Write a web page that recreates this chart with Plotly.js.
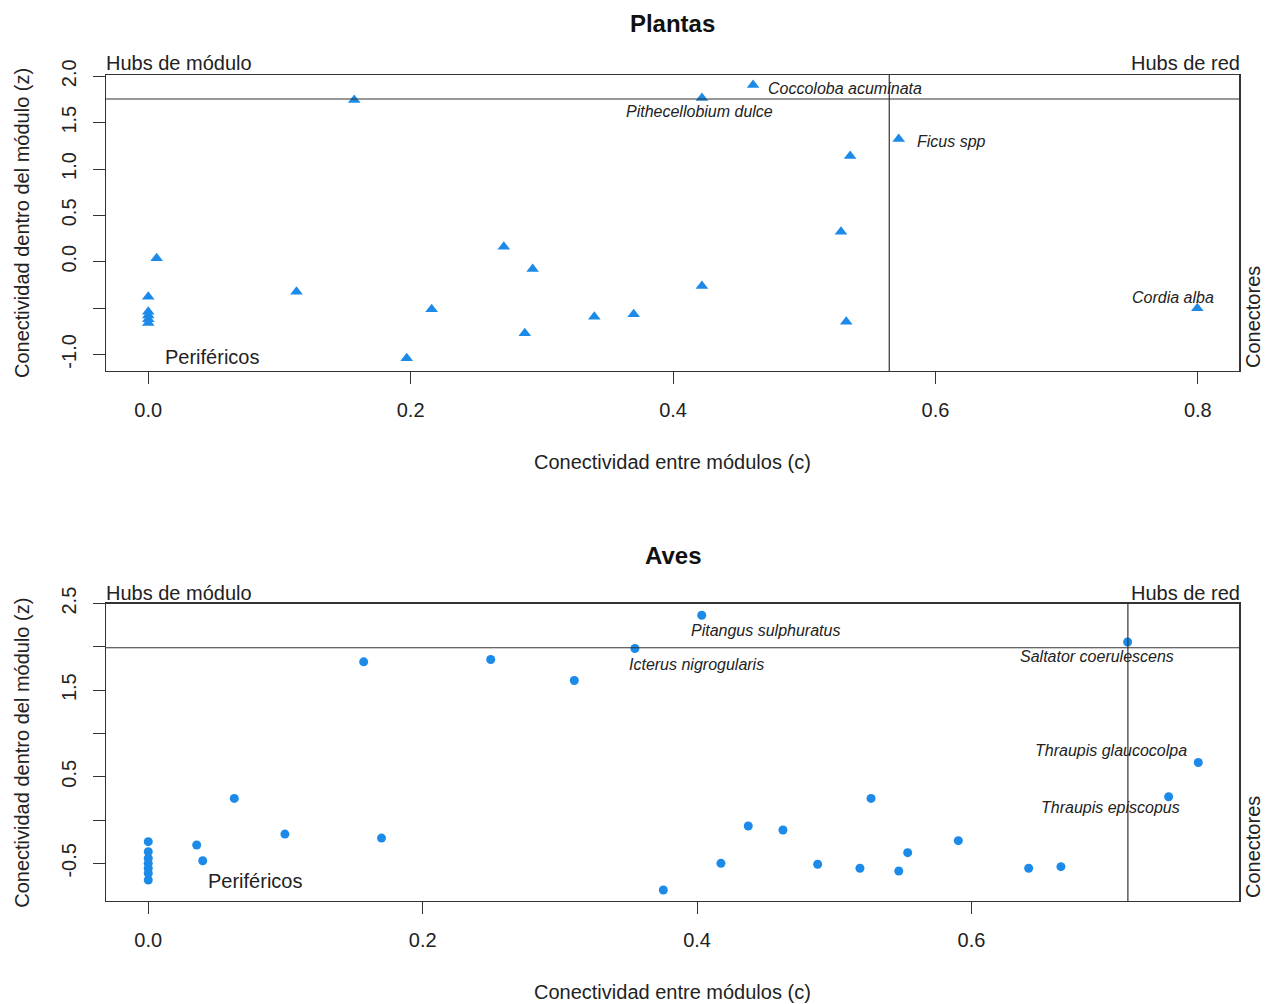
<!DOCTYPE html>
<html>
<head>
<meta charset="utf-8">
<script src="https://cdn.plot.ly/plotly-3.0.1.min.js"></script>
<style>html,body{margin:0;padding:0;background:#fff;}#chart{width:1269px;height:1004px;}</style>
</head>
<body>
<div id="chart"></div>
<script>
// ---------- DATA ----------
const plantC = [0.0064, 0, 0, 0, 0, 0, 0.113, 0.157, 0.197, 0.216, 0.271, 0.293, 0.287,
  0.461, 0.422, 0.572, 0.535, 0.528, 0.422, 0.340, 0.370, 0.532, 0.7996];
const plantZ = [0.037, -0.378, -0.54, -0.58, -0.62, -0.66, -0.324, 1.745, -1.042, -0.514, 0.162, -0.079, -0.773,
  1.906, 1.765, 1.323, 1.14, 0.324, -0.262, -0.593, -0.568, -0.647, -0.503];
const plantNames = ['', '', '', '', '', '', '', '', '', '', '', '', '',
  'Coccoloba acuminata', 'Pithecellobium dulce', 'Ficus spp', '', '', '', '', '', '', 'Cordia alba'];

const birdC = [0, 0, 0, 0, 0, 0, 0, 0.0353, 0.0397, 0.0627, 0.0996, 0.157, 0.170, 0.2496, 0.3105,
  0.3547, 0.4034, 0.3754, 0.4174, 0.4373, 0.4626, 0.4879, 0.5268, 0.5187, 0.547, 0.5535, 0.5904,
  0.6417, 0.6652, 0.7138, 0.7653, 0.7437];
const birdZ = [-0.25, -0.365, -0.44, -0.5, -0.557, -0.615, -0.692, -0.288, -0.47, 0.25, -0.162, 1.827, -0.208, 1.854, 1.612,
  1.981, 2.365, -0.808, -0.5, -0.069, -0.115, -0.511, 0.25, -0.557, -0.588, -0.377, -0.238,
  -0.557, -0.538, 2.057, 0.665, 0.269];
const birdNames = ['', '', '', '', '', '', '', '', '', '', '', '', '', '', '',
  'Icterus nigrogularis', 'Pitangus sulphuratus', '', '', '', '', '', '', '', '', '', '',
  '', '', 'Saltator coerulescens', 'Thraupis glaucocolpa', 'Thraupis episcopus'];

// thresholds (c, z)
const plantCThr = 0.5648, plantZThr = 1.755;
const birdCThr = 0.714, birdZThr = 1.99;

// tick labels
const plantXTicks = [0, 0.2, 0.4, 0.6, 0.8];
const plantXText = ['0.0', '0.2', '0.4', '0.6', '0.8'];
const plantYTicks = [-1, -0.5, 0, 0.5, 1, 1.5, 2];
const plantYText = ['-1.0', '', '0.0', '0.5', '1.0', '1.5', '2.0'];
const birdXTicks = [0, 0.2, 0.4, 0.6];
const birdXText = ['0.0', '0.2', '0.4', '0.6'];
const birdYTicks = [-0.5, 0, 0.5, 1, 1.5, 2, 2.5];
const birdYText = ['-0.5', '', '0.5', '', '1.5', '', '2.5'];

// ---------- STYLE / LAYOUT ----------
const W = 1269, H = 1004;
const px = v => v / W, py = v => 1 - v / H;
const FONT = 'Liberation Sans, Arial, sans-serif';
const TXT = '#222';
const BLUE = '#1c8ae8';

// label offsets in px (style only)
const labelStyle = {
  'Coccoloba acuminata': {xanchor: 'left', xshift: 13, yshift: -3},
  'Pithecellobium dulce': {xanchor: 'center', xshift: -2, yshift: -13},
  'Ficus spp': {xanchor: 'left', xshift: 16, yshift: -2},
  'Cordia alba': {xanchor: 'center', xshift: -24, yshift: 11},
  'Pitangus sulphuratus': {xanchor: 'center', xshift: 64, yshift: -15},
  'Icterus nigrogularis': {xanchor: 'center', xshift: 62, yshift: -16},
  'Saltator coerulescens': {xanchor: 'center', xshift: -31, yshift: -15},
  'Thraupis glaucocolpa': {xanchor: 'center', xshift: -87, yshift: 12},
  'Thraupis episcopus': {xanchor: 'center', xshift: -58, yshift: -11}
};

const traces = [
  {x: plantC, y: plantZ, xaxis: 'x', yaxis: 'y', type: 'scatter', mode: 'markers',
   marker: {symbol: 'triangle-up', size: 11, color: BLUE}, hoverinfo: 'x+y', showlegend: false},
  {x: birdC, y: birdZ, xaxis: 'x2', yaxis: 'y2', type: 'scatter', mode: 'markers',
   marker: {symbol: 'circle', size: 9, color: BLUE}, hoverinfo: 'x+y', showlegend: false}
];

function axisBase() {
  return {showline: true, mirror: true, linecolor: '#333', linewidth: 1.3,
    ticks: 'outside', ticklen: 12, tickcolor: '#333', tickwidth: 1,
    showgrid: false, zeroline: false, fixedrange: true,
    tickfont: {family: FONT, size: 20, color: TXT}};
}

const xa = Object.assign(axisBase(), {domain: [px(106), px(1239.3)], range: [-0.0322, 0.8316],
  tickmode: 'array', tickvals: plantXTicks, ticktext: plantXText, anchor: 'y', ticklabelstandoff: 9});
const ya = Object.assign(axisBase(), {domain: [py(371), py(75)], range: [-1.179, 2.014],
  tickmode: 'array', tickvals: plantYTicks, ticktext: plantYText, anchor: 'x', tickangle: -90, ticklabelstandoff: 9});
const xa2 = Object.assign(axisBase(), {domain: [px(106), px(1239.3)], range: [-0.0308, 0.7952],
  tickmode: 'array', tickvals: birdXTicks, ticktext: birdXText, anchor: 'y2', ticklabelstandoff: 9});
const ya2 = Object.assign(axisBase(), {domain: [py(901), py(603.6)], range: [-0.935, 2.5],
  tickmode: 'array', tickvals: birdYTicks, ticktext: birdYText, anchor: 'x2', tickangle: -90, ticklabelstandoff: 9});

const shapes = [
  {type: 'line', xref: 'x', yref: 'y', x0: -0.0322, x1: 0.8316, y0: plantZThr, y1: plantZThr, line: {color: '#333', width: 1.2}},
  {type: 'line', xref: 'x', yref: 'y', x0: plantCThr, x1: plantCThr, y0: -1.179, y1: 2.014, line: {color: '#333', width: 1.2}},
  {type: 'line', xref: 'x2', yref: 'y2', x0: -0.0308, x1: 0.7952, y0: birdZThr, y1: birdZThr, line: {color: '#333', width: 1.2}},
  {type: 'line', xref: 'x2', yref: 'y2', x0: birdCThr, x1: birdCThr, y0: -0.935, y1: 2.5, line: {color: '#333', width: 1.2}}
];

const ann = [];
function txt(text, x, y, opts) {
  ann.push(Object.assign({text: text, x: px(x), y: py(y), xref: 'paper', yref: 'paper', showarrow: false,
    xanchor: 'center', yanchor: 'middle', borderpad: 0, font: {family: FONT, size: 20, color: TXT}}, opts || {}));
}
txt('<b>Aves</b>', 672.6, 555, {font: {family: FONT, size: 24, color: '#111'}});
const panels = [{top: 75, bot: 371, ytitle: 223, xtitle: 462, peri: [164, 357]},
                {top: 604.7, bot: 901, ytitle: 752.8, xtitle: 992, peri: [207, 881]}];
panels.forEach(p => {
  txt('Hubs de módulo', 105, p.top - 12, {xanchor: 'left'});
  txt('Hubs de red', 1240.5, p.top - 12, {xanchor: 'right'});
  txt('Periféricos', p.peri[0], p.peri[1], {xanchor: 'left'});
  txt('Conectores', 1253, p.bot - 54, {textangle: -90});
  txt('Conectividad entre módulos (c)', 672.6, p.xtitle);
  txt('Conectividad dentro del módulo (z)', 22, p.ytitle, {textangle: -90});
});

function speciesLabels(cs, zs, names, xr, yr) {
  names.forEach((n, i) => {
    if (!n) return;
    const s = labelStyle[n];
    ann.push({text: '<i>' + n + '</i>', x: cs[i], y: zs[i], xref: xr, yref: yr, showarrow: false,
      xanchor: s.xanchor, yanchor: 'middle', xshift: s.xshift, yshift: s.yshift,
      font: {family: FONT, size: 16, color: TXT}});
  });
}
speciesLabels(plantC, plantZ, plantNames, 'x', 'y');
speciesLabels(birdC, birdZ, birdNames, 'x2', 'y2');

const layout = {
  width: W, height: H, margin: {l: 0, r: 0, t: 0, b: 0},
  paper_bgcolor: '#fff', plot_bgcolor: '#fff',
  title: {text: '<b>Plantas</b>', x: px(672.6), xanchor: 'center', xref: 'paper', y: py(24), yref: 'container',
    yanchor: 'middle', font: {family: FONT, size: 24, color: '#111'}},
  xaxis: xa, yaxis: ya, xaxis2: xa2, yaxis2: ya2,
  shapes: shapes, annotations: ann, showlegend: false
};

Plotly.newPlot('chart', traces, layout, {displayModeBar: false, staticPlot: true});
</script>
</body>
</html>
